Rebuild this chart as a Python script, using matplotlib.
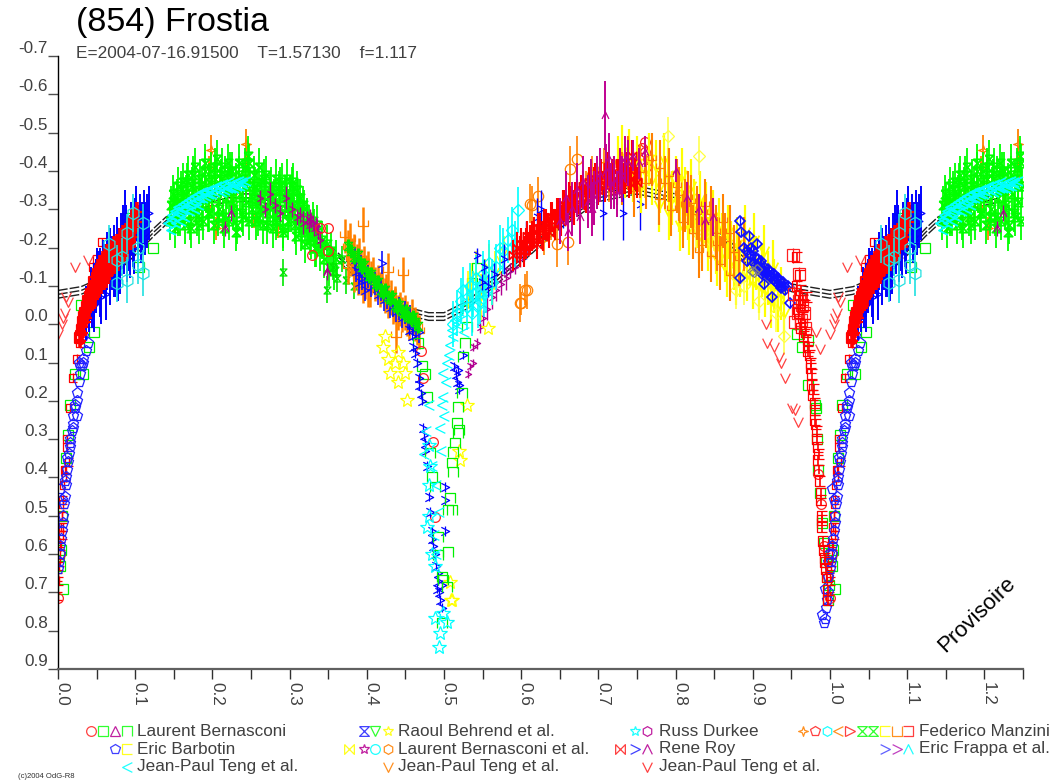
import matplotlib
matplotlib.use('Agg')
import matplotlib.pyplot as plt
from matplotlib.path import Path
from matplotlib.transforms import ScaledTranslation
import numpy as np

plt.rcParams['font.family'] = ['Liberation Sans', 'DejaVu Sans']

# model curves (drawn behind the points)
model_phase = [0.0,0.03,0.06,0.10,0.125,0.14,0.18,0.22,0.25,0.30,0.35,0.40,0.45,0.48,0.50,0.53,0.56,0.60,0.65,0.70,0.75,0.80,0.85,0.90,0.95,0.9999]
model_a = [-0.088,-0.098,-0.125,-0.20,-0.252,-0.28,-0.32,-0.34,-0.34,-0.30,-0.21,-0.115,-0.045,-0.03,-0.03,-0.06,-0.11,-0.18,-0.27,-0.34,-0.36,-0.34,-0.25,-0.165,-0.105,-0.088]
model_b = [-0.078,-0.088,-0.115,-0.19,-0.242,-0.27,-0.31,-0.33,-0.33,-0.29,-0.20,-0.105,-0.035,-0.02,-0.02,-0.05,-0.10,-0.17,-0.26,-0.33,-0.35,-0.33,-0.24,-0.155,-0.095,-0.078]
model_c = [-0.068,-0.078,-0.105,-0.18,-0.232,-0.26,-0.30,-0.32,-0.32,-0.28,-0.19,-0.095,-0.025,-0.01,-0.01,-0.04,-0.09,-0.16,-0.25,-0.32,-0.34,-0.32,-0.23,-0.145,-0.085,-0.068]

# green band on the first maximum
green_phase = [.145,.147,.149,.151,.152,.154,.156,.158,.160,.162,.164,.166,.168,.170,.172,.174,.176,.178,.180,.182,.184,.186,.188,.190,.192,.194,.196,.198,.200,.202,.204,.206,.208,.210,.212,.214,.216,.218,.220,.222,.224,.226,.228,.230,.232,.234,.236,.238,.240,.242,.244,.246,.248,.249,
               .252,.254,.256,.258,.260,.262,.264,.266,.268,.270,.272,.274,.276,.278,.280,.282,.284,.286,.288,.290,.292,.294,.296,.298,.300,.302,.304,.306,.308,.310,.312,.314,.316,.318,.320,.322,.325,.328,.331,.334,
               .150,.155,.159,.163,.167,.171,.175,.179,.183,.187,.191,.195,.199,.203,.207,.211,.215,.219,.223,.227,.231,.235,.239,.243,.247,
               .251,.255,.259,.263,.267,.271,.275,.279,.283,.287,.291,.295,.299,.303,.307,.311,.315,.319,.323,.327,.330,.333,.336,.339,.342,.345,.348,.351,.354,.357,.360]
green_mag = [-.27,-.31,-.34,-.29,-.25,-.33,-.36,-.28,-.31,-.37,-.26,-.34,-.39,-.30,-.25,-.36,-.33,-.41,-.28,-.35,-.38,-.31,-.27,-.42,-.34,-.29,-.37,-.40,-.33,-.26,-.38,-.43,-.30,-.36,-.41,-.28,-.39,-.33,-.42,-.27,-.35,-.40,-.31,-.37,-.26,-.42,-.34,-.29,-.38,-.41,-.32,-.44,-.27,-.36,
             -.33,-.39,-.27,-.35,-.41,-.30,-.37,-.26,-.34,-.39,-.29,-.32,-.36,-.25,-.33,-.38,-.28,-.35,-.30,-.37,-.24,-.33,-.38,-.27,-.34,-.29,-.37,-.31,-.23,-.35,-.29,-.33,-.25,-.31,-.21,-.28,-.26,-.22,-.25,-.20,
             -.32,-.28,-.35,-.30,-.37,-.27,-.39,-.31,-.26,-.36,-.40,-.29,-.34,-.41,-.28,-.38,-.25,-.35,-.40,-.30,-.24,-.39,-.28,-.36,-.42,
             -.30,-.36,-.28,-.33,-.38,-.26,-.35,-.31,-.27,-.36,-.25,-.34,-.29,-.36,-.26,-.33,-.24,-.30,-.26,-.23,-.27,-.20,-.26,-.19,-.22,-.17,-.21,-.15,-.19,-.14,-.17]
green_err = .05

# green outliers below the band
green_low_phase = [.291,.348,.373,.384,.356,.362,.368]
green_low_mag = [-.135,-.09,-.115,-.10,-.15,-.12,-.17]

# green descending stripe to the secondary minimum
stripe_phase = [.375,.380,.384,.388,.391,.394,.397,.400,.403,.406,.409,.412,.415,.418,.421,.424,.427,.430,.433,.436,.439,.442,.445,.448,.451,.454,.457,.460,.463,.466]
stripe_mag = [-.205,-.19,-.175,-.18,-.16,-.15,-.155,-.135,-.125,-.13,-.115,-.105,-.11,-.09,-.085,-.09,-.07,-.065,-.07,-.05,-.045,-.05,-.035,-.03,-.035,-.02,-.015,-.02,-.005,.005]

# cyan chevrons, first maximum
cyan_max_phase = [.143,.146,.148,.150,.152,.154,.156,.158,.160,.162,.164,.166,.168,.170,.172,.174,.176,.178,.180,.182,.184,.186,.188,.190,.192,.194,.196,.198,.200,.202,.204,.206,.208,.210,.212,.214,.216,.218,.220,.222,.224,.226,.228,.230,.232,.234,.236,.238,.240,.243,.147,.153,.159,.165,.171,.177,.183]
cyan_max_mag = [-.265,-.275,-.285,-.28,-.295,-.29,-.305,-.295,-.30,-.315,-.30,-.32,-.31,-.325,-.315,-.33,-.32,-.335,-.325,-.34,-.33,-.345,-.33,-.345,-.335,-.35,-.34,-.35,-.34,-.355,-.345,-.36,-.35,-.36,-.345,-.365,-.35,-.36,-.355,-.37,-.355,-.365,-.355,-.37,-.36,-.375,-.36,-.37,-.365,-.375,-.245,-.265,-.27,-.28,-.295,-.30,-.31]

# purple around phase 0.3 and the branch after the secondary minimum
purple_phase = [.262,.268,.275,.281,.288,.295,.303,.309,.314,.318,.322,.325,.328,.331,.334,.337,.327,.330,.335,.340,.531,.534,.538,.538,.543,.547,.551,.556,.562,.568,.574,.580,.586,.592,.598,.604,.610]
purple_mag = [-.33,-.30,-.34,-.31,-.29,-.33,-.30,-.28,-.285,-.265,-.275,-.26,-.27,-.25,-.26,-.24,-.28,-.265,-.255,-.22,.13,.11,.10,.06,.05,.008,-.016,-.04,-.07,-.09,-.105,-.12,-.14,-.15,-.17,-.185,-.20]
purple_err = [.02,.02,.03,.02,.02,.03,.02,.02,.02,.03,.02,.02,.02,.02,.02,.02,.02,.02,.02,.02,.01,.01,.01,.01,.015,.015,.02,.03,.03,.03,.03,.03,.02,.02,.02,.02,.02]
purple_low_phase = [.348,.348,.216,.224]
purple_low_mag = [-.135,-.14,-.25,-.29]

# orange forks, descending branch
orange_phase = [.372,.375,.378,.381,.384,.387,.390,.393,.396,.399,.402,.405,.408,.411,.414,.417,.420,.423,.425,.428,.431,.434,.437,.440,.443,.446,.449,.452,.455,.458,.462,.465,.468,
                .395,.447,.428,.436,.438,.376,.380,.383,.386,.389,.392,.395,.398,.401,.404]
orange_mag = [-.23,-.20,-.22,-.18,-.19,-.165,-.18,-.15,-.16,-.135,-.145,-.12,-.13,-.105,-.11,-.09,-.10,-.075,-.085,-.06,-.07,-.045,-.055,-.03,-.04,-.025,-.03,-.015,-.005,-.02,.0,.01,.02,
              -.26,-.13,-.14,-.05,.03,-.15,-.17,-.13,-.14,-.12,-.12,-.10,-.11,-.09,-.09]
orange_err = .045
orange_top_phase = [.195,.198,.244,.243,.196,.245,.205,.214,.225,.254,.285]
orange_top_mag = [-.41,-.455,-.47,-.43,-.30,-.37,-.25,-.27,-.34,-.27,-.245]
orange_top_err = [.03,.04,.04,.03,.02,.02,.03,.03,.02,.02,.02]

# blue chevrons on the descending branch and in the secondary minimum
blue_desc_phase = [.385,.390,.393,.398,.402,.405,.410,.414,.418,.422,.426,.430,.434,.438,.442,.446,.450,.453,.456,.460,.464,.468,.386,.390,.394,.398,.420]
blue_desc_mag = [-.17,-.135,-.15,-.115,-.125,-.10,-.105,-.08,-.09,-.065,-.07,-.045,-.05,-.035,-.04,-.02,-.03,-.015,-.02,.0,.01,.02,-.14,-.11,-.12,-.09,-.16]
blue_ecl_phase = [.455,.458,.460,.462,.465,.467,.468,.470,.471,.473,.474,.475,.476,.478,.480,.482,.484,.485,.486,.488,.490,.491,.492,.492,.494,.495,.497,.498,.501,.501,.501,.513,.515,.517,.518,.519,.520,.524]
blue_ecl_mag = [.015,.03,.06,.075,.10,.14,.16,.18,.20,.27,.29,.31,.33,.37,.45,.49,.54,.56,.58,.60,.63,.69,.65,.67,.70,.72,.74,.68,.425,.46,.54,.11,.13,.15,.12,.16,.17,.08]

# green squares along both eclipses
green_sq_phase = [.466,.471,.475,.478,.957,.971,.964,.972,.981,.982,.983,.985,.987,.989,.992,.995,.996,.998,.002,.004,.006,.010,.013,.015,.022,.032,.040,.046,.090,.123,.105,.030,.005,.001,.999]
green_sq_mag = [.05,.11,.13,.19,.025,.04,.06,.16,.21,.22,.30,.38,.44,.52,.57,.62,.66,.72,.63,.59,.69,.35,.29,.21,.13,.13,.06,.02,-.277,-.20,-.15,-.05,.50,.60,.68]

# green brackets on both sides of the secondary minimum
green_br_phase = [.543,.536,.530,.530,.527,.525,.523,.518,.517,.520,.518,.514,.512,.510,.512,.508,.505,.510,.505,.499,.504,.497,.482,.484,.488,.492,.492,.498]
green_br_mag = [-.146,-.107,-.037,.008,.05,.086,.18,.217,.258,.277,.285,.31,.334,.363,.386,.454,.486,.486,.595,.668,.687,.78,.337,.40,.425,.556,.603,.66]

# yellow stars in the secondary minimum
yellow_star_phase = [.421,.428,.430,.440,.450,.440,.452,.557,.530,.509,.424,.436,.447,.521,.520,.508,.510]
yellow_star_mag = [.06,.09,.128,.073,.128,.15,.198,.01,.21,.72,.03,.10,.10,.355,.33,.673,.72]

# cyan in the secondary minimum and rising branch
cyan_chev_phase = [.508,.510,.499,.499,.497,.495,.504,.502,.506,.500,.496,.490,.493,.487,.489,.484,.512,.514,.517,.520,.523,.526,.529,.477,.474,.480]
cyan_chev_mag = [.055,.016,.128,.19,.21,.27,.10,.15,.08,.24,.33,.42,.49,.55,.60,.37,.03,-.01,.0,-.035,-.01,.02,-.06,.28,.34,.21]
cyan_star_phase = [.499,.488,.504,.495,.494,.488,.482,.481,.480,.484,.480,.478]
cyan_star_mag = [.755,.768,.778,.807,.843,.63,.37,.42,.50,.60,.315,.53]
cyan_rise_phase = [.512,.517,.522,.525,.530,.534,.538,.542,.546,.550,.554,.558,.562,.568,.572,.577,.583,.588,.592,.596,.536,.544,.552]
cyan_rise_mag = [.0,-.03,-.06,-.09,-.045,-.10,-.08,-.12,-.06,-.13,-.09,-.16,-.11,-.15,-.20,-.19,-.22,-.245,-.21,-.298,-.03,-.05,-.08]
cyan_rise_err = .06
yellow_rise_phase = [.531,.535,.541,.548,.553,.558,.562,.566,.572,.578]
yellow_rise_mag = [-.09,-.11,-.13,-.07,-.12,-.15,-.10,-.14,-.17,-.19]
yellow_rise_err = [.05,.05,.06,.06,.05,.06,.05,.05,.04,.04]
blue_rise_phase = [.543,.552,.549,.557,.565,.578,.606,.620,.625,.654,.706,.732,.754]
blue_rise_mag = [-.18,-.15,-.11,-.10,-.13,-.17,-.22,-.28,-.30,-.30,-.29,-.29,-.315]
blue_rise_err = [.02,.02,.02,.03,.03,.04,.05,.05,.05,.05,.07,.07,.07]

# orange circles in the rising branch
orange_ci_phase = [.600,.605,.598,.607,.611,.614,.622,.630,.638,.646,.660,.663,.672,.676,.684,.692,.700,.707,.714]
orange_ci_mag = [-.055,-.09,-.055,-.09,-.315,-.31,-.335,-.23,-.27,-.21,-.215,-.406,-.43,-.32,-.35,-.39,-.36,-.41,-.37]
orange_ci_err = [.03,.04,.05,.05,.05,.05,.05,.05,.05,.06,.06,.06,.06,.05,.05,.05,.05,.05,.05]

# red crosses over the rising branch and the maximum
red_rise_phase = [.590,.595,.600,.604,.608,.612,.616,.620,.624,.628,.632,.636,.640,.644,.648,.652,.656,.660,.664,.668,.672,.676,.680,.684,.688,.692,.696,.700,.704,.708,.712,.716,.720,.724,.728,.732,.736,.740,.744,.748,
                  .598,.606,.614,.622,.630,.638,.646,.654,.662,.670,.678,.686,.694,.702,.710,.718,.726,.734,.742,.750]
red_rise_mag = [-.18,-.20,-.21,-.19,-.23,-.22,-.24,-.21,-.25,-.23,-.26,-.24,-.28,-.26,-.29,-.27,-.31,-.28,-.32,-.30,-.34,-.31,-.36,-.33,-.37,-.34,-.38,-.35,-.39,-.36,-.41,-.37,-.40,-.35,-.42,-.38,-.41,-.37,-.44,-.39,
                -.19,-.21,-.23,-.25,-.26,-.28,-.29,-.31,-.33,-.33,-.35,-.35,-.37,-.38,-.39,-.39,-.39,-.38,-.38,-.37]
red_rise_err = .04
purple_top_phase = [.708,.702,.714,.720,.728,.735,.745,.752,.760,.690,.650,.658,.666,.672,.680,.686,.694,.698,.710,.716,.724,.730,.738,.660,.676,.692,.800,.815,.830,.838,.848]
purple_top_mag = [-.545,-.39,-.43,-.37,-.40,-.43,-.44,-.42,-.45,-.36,-.27,-.33,-.30,-.35,-.37,-.32,-.33,-.37,-.40,-.36,-.34,-.38,-.42,-.24,-.28,-.30,-.40,-.33,-.30,-.27,-.28]
purple_top_err = [.09,.07,.07,.07,.06,.06,.04,.04,.04,.07,.06,.07,.07,.07,.07,.07,.07,.07,.07,.06,.06,.06,.06,.05,.07,.07,.03,.04,.04,.05,.05]

# yellow and orange on the descending right side
yellow_fall_phase = [.725,.730,.735,.740,.745,.750,.755,.760,.765,.770,.775,.780,.785,.790,.795,.800,.804,.808,.812,.816,.820,.824,.828,.832,.836,.840,.844,.848,.852,.856,.860,.864,.868,.872,.876,.880,.884,.888,.892,.896,.900,.904,.908,.912,.916,.920,.924,.928,.932,.936,.940,
                     .778,.792,.806,.818,.830,.842,.854,.866,.878,.890,.902,.914,.926]
yellow_fall_mag = [-.42,-.45,-.40,-.44,-.39,-.42,-.36,-.40,-.43,-.38,-.41,-.36,-.43,-.39,-.33,-.37,-.31,-.39,-.34,-.29,-.36,-.31,-.27,-.33,-.26,-.30,-.24,-.28,-.20,-.26,-.22,-.18,-.24,-.20,-.16,-.21,-.14,-.19,-.13,-.17,-.11,-.16,-.10,-.14,-.09,-.12,-.06,-.10,-.05,-.08,-.03,
                   -.31,-.29,-.26,-.25,-.23,-.21,-.17,-.14,-.12,-.24,-.22,-.19,-.15]
yellow_fall_err = .07
yellow_open_phase = [.790,.830,.826,.845,.850,.888,.878,.930,.908,.880,.940]
yellow_open_mag = [-.49,-.44,-.24,-.22,-.24,-.10,-.09,-.03,-.06,-.12,.03]
orange_fall_phase = [.730,.738,.746,.754,.762,.770,.778,.786,.794,.802,.810,.816,.822,.828,.834,.840,.846,.852,.858,.864,.870,.876,.882,.888,
                     .780,.792,.804,.812,.820,.830,.838,.846,.854,.862,.870]
orange_fall_mag = [-.38,-.42,-.35,-.40,-.37,-.43,-.33,-.37,-.30,-.36,-.27,-.33,-.24,-.29,-.21,-.27,-.18,-.24,-.16,-.22,-.13,-.19,-.17,-.21,
                   -.41,-.39,-.34,-.31,-.32,-.19,-.31,-.29,-.21,-.27,-.24]
orange_fall_err = .07

# blue diamonds before the primary minimum
blue_fall_phase = [.885,.889,.893,.897,.900,.903,.906,.909,.912,.915,.918,.921,.924,.927,.930,.933,.936,.939,.942,.945,.905,.915,.925,.884,.895,.884,.948,.902,.907,.912,.917,.922,.927,.932,.937,.893,.898,.904,.910,.914,.920,.926,.931,.935,.941]
blue_fall_mag = [-.24,-.20,-.19,-.18,-.19,-.175,-.15,-.16,-.14,-.15,-.13,-.14,-.12,-.13,-.11,-.12,-.10,-.11,-.09,-.10,-.21,-.105,-.07,-.27,-.23,-.12,-.055,-.16,-.17,-.13,-.135,-.125,-.115,-.105,-.095,-.165,-.20,-.155,-.165,-.14,-.145,-.13,-.12,-.11,-.10]
gray_fall_phase = [.899,.902,.905]
gray_fall_mag = [-.14,-.135,-.145]

# red squares and brackets, ingress of the primary minimum
red_sq_phase = [.952,.960,.954,.960,.964,.958,.962,.966,.955,.967]
red_sq_mag = [-.18,-.13,-.08,-.06,-.05,-.03,-.01,-.03,-.005,.01]
red_br_phase = [.957,.961,.957,.961,.965,.958,.965,.967,.960,.963,.966,.969,.971,.973,.974,.976,.977,.977,.978,.980,.981,.981,.982,.983,.984,.985,.986,.987,.988,.988,.989,.990,.991,.992,.993,.995,.996,.997,.998,
            .970,.968,.962,.972,.975,.979,.983,.986,.990,.994]
red_br_mag = [-.175,-.128,-.10,-.076,-.063,-.04,-.02,.0,-.03,.01,.03,.02,.04,.06,.08,.10,.13,.16,.185,.205,.225,.25,.26,.30,.32,.355,.38,.41,.44,.46,.51,.53,.565,.59,.62,.64,.66,.695,.72,
            -.07,-.05,-.09,.07,.115,.17,.28,.34,.50,.61]
# red egress, thinner than the band above it
red_egress_phase = [.000,.001,.002,.003,.004,.005,.006,.007,.008,.010,.012,.016,.020,.024,.028]
red_egress_mag = [.71,.63,.60,.57,.53,.50,.47,.46,.42,.38,.30,.22,.14,.09,.05]
# red maximum band
red_band_phase = [.029,.030,.031,.032,.033,.034,.035,.036,.037,.038,.039,.040,.041,.042,.043,.044,.045,.046,.047,.048,.049,.050,.051,.052,.053,.054,.055,.056,.057,.058,.059,.060,.061,.062,.063,.064,.065,.066,.068,.070,.072,.074,.076,.078,.080,.082,.084,.086,.088,.090,.092,.094,.096,.098,.100,.102]
red_band_mag = [.035,.03,.015,.01,-.005,-.02,-.03,-.02,-.045,-.03,-.06,-.05,-.07,-.06,-.08,-.075,-.09,-.08,-.11,-.085,-.10,-.12,-.10,-.13,-.11,-.12,-.14,-.115,-.13,-.15,-.125,-.14,-.16,-.13,-.15,-.17,-.14,-.16,-.18,-.16,-.19,-.17,-.20,-.18,-.21,-.19,-.22,-.20,-.23,-.21,-.24,-.23,-.26,-.24,-.27,-.28]
red_band_err = [.025,.025,.025,.025,.03,.03,.03,.03,.035,.03,.035,.03,.035,.03,.035,.04,.035,.04,.035,.04,.035,.04,.035,.04,.04,.035,.04,.035,.04,.04,.035,.04,.04,.035,.04,.04,.035,.04,.04,.035,.04,.04,.035,.04,.04,.035,.04,.04,.035,.04,.04,.035,.04,.04,.035,.04]
red_plus_phase = [.057,.050,.045,.012,.014,.010,.009,.006,.004,.002,.000,.001,.005,.007]
red_plus_mag = [-.214,-.17,-.15,.32,.36,.40,.38,.55,.58,.62,.66,.67,.50,.53]
# red circles
red_ci_phase = [.000,.003,.997,.985,.988,.992,.486,.488,.470,.473,.760,.761,.764,.757,.762,.329,.340,.350,.350]
red_ci_mag = [.715,.60,.66,.39,.47,.58,.308,.504,.07,.14,-.475,-.45,-.43,-.46,-.41,-.18,-.25,-.25,-.19]

# blue pentagons, egress
barbotin_phase = [.992,.993,.995,.996,.997,.998,.000,.001,.002,.003,.004,.005,.006,.007,.008,.009,.010,.011,.012,.013,.014,.015,.016,.018,.019,.020,.022,.024,.025,.027,.029,.031,.033,.036,.039,.990,.994,.999,.998,.003,.009,.005,.016,.012,.020,.027,.028,.032,.033,.022,.025]
barbotin_mag = [.78,.77,.74,.72,.70,.66,.64,.62,.60,.58,.56,.54,.52,.50,.47,.45,.42,.40,.38,.36,.34,.32,.30,.28,.26,.24,.22,.20,.18,.15,.13,.11,.09,.07,.05,.76,.69,.60,.62,.43,.41,.46,.31,.35,.27,.10,.11,.10,.03,.21,.24]

# blue error-bar band
blue_band_phase = [.036,.040,.043,.046,.049,.052,.055,.058,.061,.064,.067,.070,.073,.076,.079,.082,.085,.088,.091,.094,.097,.100,.103,.106,.109,.112,.115,.118,.044,.054,.062,.072,.080,.090,.098,.047,.051,.056,.063,.068,.074,.078,.084,.087,.093,.101,.107,.113]
blue_band_mag = [-.03,-.05,-.08,-.09,-.10,-.12,-.13,-.15,-.14,-.16,-.18,-.16,-.19,-.21,-.18,-.22,-.20,-.24,-.21,-.25,-.22,-.26,-.24,-.27,-.25,-.28,-.27,-.29,-.06,-.09,-.08,-.14,-.15,-.18,-.20,-.05,-.13,-.07,-.17,-.12,-.14,-.13,-.24,-.28,-.19,-.29,-.23,-.25]
blue_band_err = .07
cyan_ci_phase = [.076,.089,.104,.110,.077,.090,.104,.110,.083,.066,.097]
cyan_ci_mag = [-.167,-.237,-.20,-.263,-.107,-.115,-.154,-.133,-.175,-.21,-.29]
cyan_ci_err = [.04,.05,.05,.05,.05,.06,.05,.06,.05,.05,.05]

# red chevrons of the last observer
teng_phase = [.022,.039,.013,.009,.005,.000,.982,.987,.917,.918,.928,.934,.937,.942,.951,.955,.958,.011,.007]
teng_mag = [-.15,-.167,-.057,-.03,.0,.025,.02,.065,.0,.05,.06,.085,.10,.14,.22,.225,.255,-.07,-.015]

yticks = np.round(np.arange(-0.7, 0.95, 0.1), 1)
xticks = np.round(np.arange(0, 1.25, 0.1), 1)
minor_xticks = np.round(np.arange(0.05, 1.3, 0.1), 2)

legend_rows = [
    [('Laurent Bernasconi', ['o','s','^','n'], ['#ff4040','#30ff30','#c020a0','#30ff30'], [91,103,115,127]),
     ('Raoul Behrend et al.', ['x','v','*'], ['#4040ff','#30ff30','#ffff20'], [364,375,388]),
     ('Russ Durkee', ['*','h'], ['#20ffff','#c020a0'], [635,647]),
     ('Federico Manzini', ['d','p','h','<','t','g','g','c','u','r'], ['#ff9020','#ff4040','#20ffff','#ff9020','#ff4040','#30ff30','#30ff30','#ffff20','#ff9020','#ff4040'], [803,815,827,838,850,862,873,885,897,908])],
    [('Eric Barbotin', ['p','c2'], ['#4040ff','#ffff20'], [115,127]),
     ('Laurent Bernasconi et al.', ['g2','6','o','h'], ['#ffff20','#c020a0','#20ffff','#ff9020'], [349,364,375,388]),
     ('Rene Roy', ['D2','>','^2'], ['#ff4040','#4040ff','#c020a0'], [620,635,647]),
     ('Eric Frappa et al.', ['y','y2','d2'], ['#6060ff','#c040c0','#20ffff'], [885,897,908])],
    [('Jean-Paul Teng et al.', ['<'], ['#20ffff'], [127]),
     ('Jean-Paul Teng et al.', ['V'], ['#ff9020'], [388]),
     ('Jean-Paul Teng et al.', ['L'], ['#ff4040'], [647])],
]
legend_text_x = [137,398,659,919]
legend_row_y = [731,749,767]

chev_l = Path([(1,1),(-1,0),(1,-1)])
chev_r = Path([(-1,1),(1,0),(-1,-1)])
chev_d = Path([(-1,1),(0,-1),(1,1)])
chev_u = Path([(-1,-1),(0,1),(1,-1)])
br_l = Path([(1,1),(-1,1),(-1,-1),(1,-1)])
br_r = Path([(-1,1),(1,1),(1,-1),(-1,-1)])
br_n = Path([(-1,-1),(-1,1),(1,1),(1,-1)])
br_u = Path([(-1,1),(-1,-1),(1,-1),(1,1)])
hourglass = Path([(-1,1),(1,1),(-1,-1),(1,-1),(-1,1)])
bowtie = Path([(-1,1),(-1,-1),(1,1),(1,-1),(-1,1)])
fork = Path([(-1,1),(-1,-.2),(1,-.2),(1,1),(0,1),(0,-1)], [1,2,2,2,1,2])
red_l = Path([(-1,1),(0,-1),(1,1)])
star4 = Path([(0,1),(.25,.25),(1,0),(.25,-.25),(0,-1),(-.25,-.25),(-1,0),(-.25,.25),(0,1)])
marker_map = {'n':br_n,'u':br_u,'c':br_l,'c2':br_l,'r':br_r,'g':hourglass,'g2':bowtie,'t':'>','x':hourglass,'d':star4,'d2':chev_u,'6':'*',
              '<':chev_l,'>':chev_r,'V':chev_d,'^2':chev_u,'D2':bowtie,'y':chev_r,'y2':chev_r,'L':red_l}

fig = plt.figure(figsize=(10.62,7.82), dpi=100)
ax = fig.add_axes([58/1062, 1-669/782, (1023-58)/1062, (669-56)/782])


def draw(phase, mag, err, color, marker, ms=6, lw=0.9, alpha=1.0, mew=0.9):
    phase = np.array(phase)
    mag = np.array(mag)
    keep = phase < 0.25
    x = np.concatenate([phase, phase[keep]+1])
    y = np.concatenate([mag, mag[keep]])
    if err is not None:
        e = np.full(len(phase), err) if np.isscalar(err) else np.array(err)
        e = np.concatenate([e, e[keep]])
        ax.vlines(x, y-e, y+e, color=color, lw=lw, alpha=alpha)
    ax.plot(x, y, ls='none', marker=marker, ms=ms, mfc='none', mec=color, mew=mew, alpha=alpha)


for model_mag in [model_a, model_b, model_c]:
    p = np.array(model_phase)
    keep = p < 0.25
    ax.plot(np.concatenate([p, p[keep]+1]), np.concatenate([model_mag, np.array(model_mag)[keep]]),
            color='#202020', lw=1, ls=(0,(7,1.5)))

draw(orange_top_phase, orange_top_mag, orange_top_err, '#ff8000', star4, 7, 1.3)
draw(green_phase, green_mag, green_err, '#00ff00', hourglass, 6, 1.3, mew=1.3)
draw(green_low_phase, green_low_mag, .035, '#00e800', hourglass, 5, 1.2)
draw(purple_phase, purple_mag, purple_err, '#b00090', chev_r, 4.5, 1.0)
draw(purple_low_phase, purple_low_mag, .02, '#b00090', chev_u, 5)
draw(cyan_max_phase, cyan_max_mag, None, '#00ffff', chev_l, 6.5, mew=1.3)
draw(orange_phase, orange_mag, orange_err, '#ff8000', fork, 7, 1.8)
draw(blue_desc_phase, blue_desc_mag, .03, '#1010ff', chev_r, 6, 1.2)
draw(stripe_phase, stripe_mag, .018, '#00e800', hourglass, 6, 2.2)
draw(yellow_star_phase, yellow_star_mag, None, '#ffff00', '*', 10)
draw(green_sq_phase, green_sq_mag, None, '#00f000', 's', 7)
draw(red_ci_phase, red_ci_mag, None, '#ff2020', 'o', 7)
draw(blue_ecl_phase, blue_ecl_mag, .012, '#0000ff', chev_r, 6)
draw(green_br_phase, green_br_mag, None, '#00f000', br_n, 7.5)
draw(cyan_chev_phase, cyan_chev_mag, None, '#00ffff', chev_l, 7)
draw(cyan_star_phase, cyan_star_mag, None, '#00ffff', '*', 10)
draw(orange_ci_phase, orange_ci_mag, orange_ci_err, '#ff8000', 'o', 7.5, 1.2)
draw(yellow_rise_phase, yellow_rise_mag, yellow_rise_err, '#ffff00', chev_d, 5, 1.2)
draw(cyan_rise_phase, cyan_rise_mag, cyan_rise_err, '#00ffff', 'D', 6.5, 1.2)
draw(blue_rise_phase, blue_rise_mag, blue_rise_err, '#0000ff', chev_r, 5, 1.0)
draw(yellow_fall_phase, yellow_fall_mag, yellow_fall_err, '#ffff00', chev_d, 7, 1.6, mew=1.3)
draw(yellow_open_phase, yellow_open_mag, .05, '#ffff40', 'D', 6.5, 1.1)
draw(orange_fall_phase, orange_fall_mag, orange_fall_err, '#ff8000', fork, 6, 1.5)
draw(red_rise_phase, red_rise_mag, red_rise_err, '#ff0000', bowtie, 6, 1.5, mew=1.2)
draw(purple_top_phase, purple_top_mag, purple_top_err, '#c00090', chev_u, 5, 1.4)
draw(blue_fall_phase, blue_fall_mag, .012, '#1010ff', 'D', 5.5, mew=1.2)
draw(gray_fall_phase, gray_fall_mag, None, '#808080', 'D', 5.5)
draw(red_plus_phase, red_plus_mag, .012, '#ff0000', br_l, 6, 1.0)
draw(red_egress_phase, red_egress_mag, .012, '#ff0000', br_l, 6, 1.0)
draw(barbotin_phase, barbotin_mag, None, '#2020ff', 'p', 8)
draw(blue_band_phase, blue_band_mag, blue_band_err, '#0000ff', chev_r, 5, 1.4)
draw(red_band_phase, red_band_mag, red_band_err, '#ff0000', br_l, 7, 2.6, mew=1.6)
draw(red_sq_phase, red_sq_mag, .02, '#ff2020', 's', 8.5)
draw(red_br_phase, red_br_mag, .012, '#ff0000', br_l, 7.5, 1.2)
draw(cyan_ci_phase, cyan_ci_mag, cyan_ci_err, '#20e0e0', 'h', 9, 1.2)
draw(teng_phase, teng_mag, None, '#ff4040', red_l, 7)

ax.set_xlim(0, 1.25)
ax.set_ylim(0.9, -0.7)
ax.spines['top'].set_visible(False)
ax.spines['right'].set_visible(False)
ax.spines['left'].set_linewidth(1)
ax.spines['bottom'].set_linewidth(1.6)
ax.spines['bottom'].set_color('#606060')
ax.patch.set_alpha(0)

ax.set_yticks(yticks)
ax.set_yticklabels([f'{v + 0.0:.1f}'.replace('-0.0', '0.0') for v in yticks], fontsize=12.3, color='#404040')
for lab in ax.get_yticklabels():
    lab.set_va('bottom')
ax.tick_params(axis='y', length=7.2, width=1, pad=0, color='#505050')

ax.set_xticks(xticks)
ax.set_xticklabels([f'{v:.1f}' for v in xticks], fontsize=12.3, rotation=270, color='#404040')
ax.set_xticks(minor_xticks, minor=True)
ax.tick_params(axis='x', which='both', length=7.2, width=1, pad=2, color='#303030')
shift = ScaledTranslation(4/100, 0, fig.dpi_scale_trans)
for lab in ax.get_xticklabels():
    lab.set_transform(lab.get_transform() + shift)

# overlay in pixel coordinates for title, stamp and legend
ov = fig.add_axes([0,0,1,1])
ov.set_xlim(0,1062)
ov.set_ylim(782,0)
ov.axis('off')
ov.text(76, 23, '(854) Frostia', fontsize=24.5, color='black', va='center')
ov.text(76, 53, 'E=2004-07-16.91500    T=1.57130    f=1.117', fontsize=12.4, color='#404040', va='center')
ov.text(977, 615, 'Provisoire', fontsize=16, rotation=44, color='black', ha='center', va='center')
ov.text(18, 777, '(c)2004 OdG-R8', fontsize=5.5, color='#303030', va='center')

for row, y in zip(legend_rows, legend_row_y):
    for (name, marks, cols, xs), tx in zip(row, legend_text_x):
        ov.text(tx, y, name, fontsize=12.3, color='#404040', va='center')
        for m, c, mx in zip(marks, cols, xs):
            ov.plot([mx], [y], ls='none', marker=marker_map.get(m, m), ms=7, mfc='none', mec=c, mew=0.9)

fig.savefig('out.png', dpi=100)
